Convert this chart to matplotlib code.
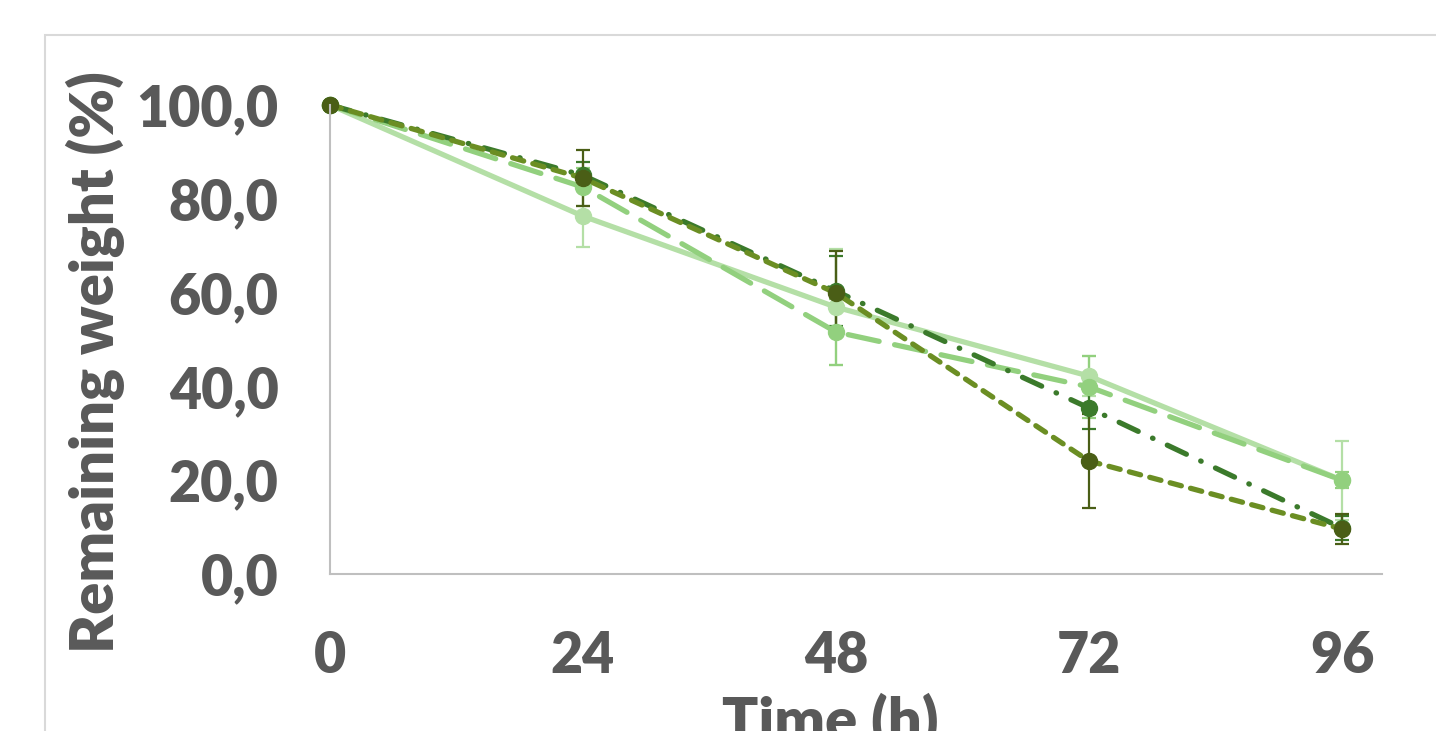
import matplotlib.pyplot as plt
from matplotlib.patches import Rectangle

# data
time_h = [0, 24, 48, 72, 96]
y_ticks = [0, 20, 40, 60, 80, 100]
y_tick_labels = ["0,0", "20,0", "40,0", "60,0", "80,0", "100,0"]

s1 = [100, 76.3, 56.9, 42.2, 20.0]
s1_err = [0, 6.6, 12.3, 4.3, 8.4]
s2 = [100, 82.5, 51.6, 39.9, 20.0]
s2_err = [0, 4.0, 7.0, 6.6, 1.7]
s3 = [100, 85.0, 60.3, 35.4, 9.8]
s3_err = [0, 2.8, 7.5, 4.5, 2.6]
s4 = [100, 84.4, 59.9, 24.1, 9.6]
s4_err = [0, 6.0, 9.0, 10.0, 3.2]

plt.rcParams['font.family'] = ['Lato', 'DejaVu Sans']
grey = '#595959'

fig = plt.figure(figsize=(14.36, 7.31), dpi=100)
# chart area border, running off the picture edges
fig.patches.append(Rectangle((45 / 1436, -0.1), 1.2, 1 - 35 / 731 + 0.1,
                             transform=fig.transFigure, fill=False,
                             edgecolor='#d9d9d9', linewidth=1.5))

ax = fig.add_axes([330 / 1436, 1 - 574 / 731, (1382 - 330) / 1436, (574 - 105) / 731])

styles = [
    (s1, s1_err, '#b4dfa6', '#b4dfa6', '-'),
    (s2, s2_err, '#92d07e', '#92d07e', (0, (6, 3))),
    (s3, s3_err, '#3b7a2b', '#3b7a2b', (0, (4, 3, 0.1, 3))),
    (s4, s4_err, '#6b8e23', '#4a5e16', (0, (2.2, 1.8))),
]
for vals, err, col, mcol, ls in styles:
    ax.errorbar(time_h, vals, yerr=err, color=col, ecolor=mcol, elinewidth=1.6,
                capsize=5, capthick=1.6, linestyle=ls, linewidth=3.8,
                marker='o', markersize=11.5, markerfacecolor=mcol,
                markeredgecolor=mcol, dash_capstyle='round', clip_on=False)

ax.set_xlim(0, 99.8)
ax.set_ylim(0, 100)
ax.set_xticks([0, 24, 48, 72, 96])
ax.set_yticks(y_ticks)
ax.set_yticklabels(y_tick_labels)
ax.tick_params(length=0, labelsize=40, labelcolor=grey)
for lab in ax.get_xticklabels() + ax.get_yticklabels():
    lab.set_fontweight('heavy')
ax.tick_params(axis='y', pad=37)
ax.tick_params(axis='x', pad=40)

for side in ['top', 'right']:
    ax.spines[side].set_visible(False)
ax.spines['left'].set_color('#bfbfbf')
ax.spines['bottom'].set_color('#bfbfbf')
ax.spines['left'].set_linewidth(1.5)
ax.spines['bottom'].set_linewidth(1.5)

fig.text(95 / 1436, 1 - 362 / 731, "Remaining weight (%)", rotation=90,
         ha='center', va='center', fontsize=43, fontweight='heavy', color=grey)
fig.text(830 / 1436, 1 - 722 / 731, "Time (h)", ha='center', va='center',
         fontsize=43, fontweight='heavy', color=grey)

fig.savefig('out.png', dpi=100)
